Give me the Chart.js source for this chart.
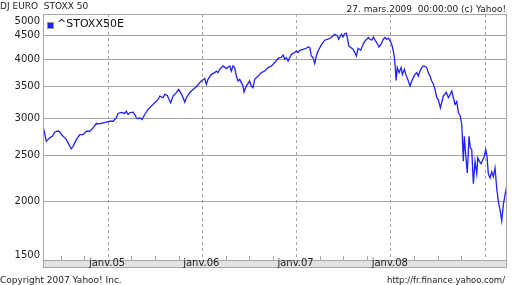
<!DOCTYPE html>
<html>
<head>
<meta charset="utf-8">
<script src="https://cdn.jsdelivr.net/npm/chart.js@4.4.1/dist/chart.umd.min.js"></script>
<style>
html, body { margin: 0; padding: 0; background: #fff; }
canvas { display: block; }
</style>
</head>
<body>
<canvas id="stoxxChart" width="512" height="285"></canvas>
<script>
// ^STOXX50E closes, time as decimal year
const years = [
    2004.310, 2004.326, 2004.345, 2004.363, 2004.381, 2004.409, 2004.434, 2004.459, 2004.480, 2004.494,
    2004.515, 2004.541, 2004.558, 2004.576, 2004.594, 2004.611, 2004.629, 2004.647, 2004.664, 2004.700,
    2004.735, 2004.770, 2004.806, 2004.841, 2004.876, 2004.912, 2004.947, 2004.982, 2005.018, 2005.053,
    2005.088, 2005.106, 2005.141, 2005.177, 2005.194, 2005.212, 2005.230, 2005.265, 2005.283, 2005.300,
    2005.318, 2005.336, 2005.361, 2005.389, 2005.424, 2005.459, 2005.495, 2005.531, 2005.549, 2005.584,
    2005.602, 2005.629, 2005.644, 2005.665, 2005.690, 2005.725, 2005.750, 2005.771, 2005.796, 2005.814,
    2005.831, 2005.867, 2005.902, 2005.937, 2005.973, 2005.990, 2006.026, 2006.043, 2006.061, 2006.096,
    2006.132, 2006.149, 2006.167, 2006.185, 2006.220, 2006.255, 2006.291, 2006.308, 2006.326, 2006.344,
    2006.361, 2006.379, 2006.397, 2006.414, 2006.432, 2006.443, 2006.467, 2006.503, 2006.520, 2006.538,
    2006.556, 2006.592, 2006.627, 2006.663, 2006.698, 2006.733, 2006.769, 2006.804, 2006.839, 2006.857,
    2006.875, 2006.892, 2006.910, 2006.928, 2006.945, 2006.981, 2006.998, 2007.016, 2007.034, 2007.069,
    2007.104, 2007.122, 2007.140, 2007.157, 2007.175, 2007.193, 2007.210, 2007.228, 2007.263, 2007.299,
    2007.334, 2007.369, 2007.405, 2007.433, 2007.448, 2007.475, 2007.493, 2007.511, 2007.528, 2007.539,
    2007.554, 2007.575, 2007.599, 2007.618, 2007.635, 2007.653, 2007.681, 2007.706, 2007.727, 2007.745,
    2007.762, 2007.780, 2007.798, 2007.815, 2007.833, 2007.851, 2007.875, 2007.897, 2007.921, 2007.939,
    2007.957, 2007.974, 2007.992, 2008.010, 2008.027, 2008.038, 2008.048, 2008.056, 2008.069, 2008.088,
    2008.109, 2008.123, 2008.144, 2008.159, 2008.180, 2008.204, 2008.222, 2008.239, 2008.257, 2008.275,
    2008.292, 2008.310, 2008.328, 2008.345, 2008.363, 2008.381, 2008.398, 2008.416, 2008.434, 2008.451,
    2008.469, 2008.488, 2008.504, 2008.526, 2008.558, 2008.589, 2008.611, 2008.629, 2008.647, 2008.664,
    2008.682, 2008.700, 2008.717, 2008.735, 2008.753, 2008.770, 2008.780, 2008.795, 2008.812, 2008.830,
    2008.844, 2008.859, 2008.876, 2008.894, 2008.912, 2008.923, 2008.940, 2008.958, 2008.976, 2008.993,
    2009.007, 2009.021, 2009.035, 2009.053, 2009.071, 2009.088, 2009.106, 2009.124, 2009.141, 2009.159,
    2009.177, 2009.194, 2009.212, 2009.230
];
const closes = [
    2883, 2799, 2682, 2704, 2727, 2748, 2803, 2817, 2817, 2794,
    2758, 2727, 2704, 2661, 2617, 2584, 2617, 2661, 2704, 2771,
    2771, 2817, 2817, 2864, 2925, 2921, 2935, 2944, 2958, 2958,
    3009, 3073, 3088, 3073, 3108, 3058, 3084, 3093, 3058, 3009,
    2994, 3009, 2983, 3058, 3134, 3185, 3238, 3291, 3345, 3319,
    3373, 3357, 3302, 3238, 3345, 3402, 3457, 3402, 3319, 3248,
    3319, 3402, 3457, 3503, 3573, 3601, 3644, 3543, 3631, 3721,
    3753, 3782, 3753, 3814, 3877, 3827, 3877, 3782, 3877, 3846,
    3690, 3601, 3631, 3573, 3514, 3412, 3514, 3601, 3514, 3486,
    3631, 3690, 3753, 3782, 3846, 3877, 3942, 4026, 4046, 4091,
    4006, 4040, 3973, 4040, 4105, 4140, 4172, 4140, 4187, 4207,
    4228, 4255, 4243, 4071, 4040, 3923, 4071, 4172, 4297, 4398,
    4419, 4456, 4529, 4492, 4419, 4529, 4470, 4545, 4551, 4456,
    4276, 4243, 4207, 4140, 4071, 4228, 4187, 4312, 4383, 4419,
    4456, 4419, 4398, 4470, 4398, 4348, 4255, 4312, 4419, 4456,
    4419, 4441, 4383, 4312, 4172, 4040, 3846, 3613, 3846, 3753,
    3846, 3721, 3814, 3721, 3631, 3514, 3601, 3662, 3721, 3753,
    3690, 3782, 3846, 3877, 3871, 3846, 3753, 3690, 3601, 3555,
    3457, 3319, 3291, 3160, 3345, 3407, 3319, 3373, 3428, 3319,
    3211, 3259, 3088, 3043, 2911, 2431, 2748, 2512, 2296, 2748,
    2597, 2575, 2179, 2431, 2288, 2472, 2431, 2403, 2451, 2491,
    2575, 2491, 2288, 2241, 2311, 2255, 2354, 2133, 1997, 1918,
    1817, 1965, 2064, 2150
];

const yTicks = [1500, 2000, 2500, 3000, 3500, 4000, 4500, 5000];
const yearTicks = [2005, 2006, 2007, 2008, 2009];
const yearLabels = ['janv.05', 'janv.06', 'janv.07', 'janv.08'];
const quarterTicks = [2004.496, 2004.748, 2005.247, 2005.496, 2005.748, 2006.247, 2006.496, 2006.748,
    2007.247, 2007.496, 2007.748, 2008.247, 2008.496, 2008.748];

const X_MIN = 2004.31;
const X_MAX = 2009.233;
const FONT = '"DejaVu Sans", Verdana, sans-serif';
const GRID = '#a6a6a6';

const yahooFrame = {
    id: 'yahooFrame',
    beforeDraw(chart) {
        const ctx = chart.ctx;
        ctx.save();
        ctx.fillStyle = '#fff';
        ctx.fillRect(0, 0, chart.width, chart.height);
        ctx.restore();
    },
    afterDraw(chart) {
        const { ctx, chartArea: a } = chart;
        const xs = chart.scales.x;
        const ys = chart.scales.y;
        ctx.save();
        ctx.strokeStyle = GRID;
        ctx.lineWidth = 1;

        // date band under the plot
        ctx.fillStyle = '#e2e2e2';
        ctx.fillRect(a.left, a.bottom, a.right - a.left, 7);
        ctx.strokeRect(a.left + 0.5, a.bottom + 0.5, a.right - a.left - 1, 7);
        // plot frame
        ctx.strokeRect(a.left + 0.5, a.top + 0.5, a.right - a.left - 1, a.bottom - a.top);

        // quarter ticks
        ctx.beginPath();
        quarterTicks.forEach(q => {
            const px = Math.round(xs.getPixelForValue(q)) + 0.5;
            ctx.moveTo(px, a.bottom);
            ctx.lineTo(px, a.bottom - 4);
        });
        ctx.stroke();

        ctx.fillStyle = '#222';
        // y labels, kept inside the plot height
        ctx.font = '10px ' + FONT;
        ctx.textAlign = 'right';
        ctx.textBaseline = 'middle';
        yTicks.forEach(v => {
            let py = ys.getPixelForValue(v);
            py = Math.min(Math.max(py, a.top + 7), a.bottom - 5);
            ctx.fillText(String(v), 40, py);
        });

        // x labels in the band
        ctx.textAlign = 'center';
        ctx.textBaseline = 'alphabetic';
        yearLabels.forEach((lab, i) => {
            ctx.fillText(lab, xs.getPixelForValue(yearTicks[i]) - 1, a.bottom + 6);
        });

        // header / footer
        ctx.font = '9px ' + FONT;
        ctx.textAlign = 'left';
        ctx.fillText('DJ EURO  STOXX 50', 0, 9);
        ctx.fillText('Copyright 2007 Yahoo! Inc.', 0, 283);
        ctx.textAlign = 'right';
        ctx.fillText('27. mars.2009  00:00:00 (c) Yahoo!', 506, 12);
        ctx.font = '8.5px ' + FONT;
        ctx.fillText('http://fr.finance.yahoo.com/', 505, 283);

        // legend
        const ds = chart.data.datasets[0];
        ctx.fillStyle = ds.borderColor;
        ctx.fillRect(48, 23, 6, 6);
        ctx.strokeStyle = '#999';
        ctx.strokeRect(47.5, 22.5, 6, 6);
        ctx.fillStyle = '#111';
        ctx.font = '11px ' + FONT;
        ctx.textAlign = 'left';
        ctx.fillText(ds.label, 57, 27);
        ctx.restore();
    }
};

const points = years.map((t, i) => ({ x: t, y: closes[i] }));

new Chart(document.getElementById('stoxxChart'), {
    type: 'line',
    data: {
        datasets: [{
            label: '^STOXX50E',
            data: points,
            borderColor: '#2020ff',
            borderWidth: 1.3,
            pointRadius: 0,
            tension: 0,
            fill: false
        }]
    },
    options: {
        responsive: false,
        animation: false,
        devicePixelRatio: 1,
        layout: { padding: { left: 43, top: 14, right: 5, bottom: 25 } },
        plugins: {
            legend: { display: false },
            tooltip: { enabled: false }
        },
        scales: {
            x: {
                type: 'linear',
                min: X_MIN,
                max: X_MAX,
                afterBuildTicks: scale => {
                    scale.ticks = yearTicks.map(v => ({ value: v }));
                },
                ticks: { display: false },
                grid: { color: GRID, drawTicks: false },
                border: { display: false, dash: [3, 3] }
            },
            y: {
                type: 'logarithmic',
                min: 1500,
                max: 5000,
                afterBuildTicks: scale => {
                    scale.ticks = yTicks.map(v => ({ value: v }));
                },
                ticks: { display: false },
                grid: { color: GRID, drawTicks: false },
                border: { display: false }
            }
        }
    },
    plugins: [yahooFrame]
});
</script>
</body>
</html>
